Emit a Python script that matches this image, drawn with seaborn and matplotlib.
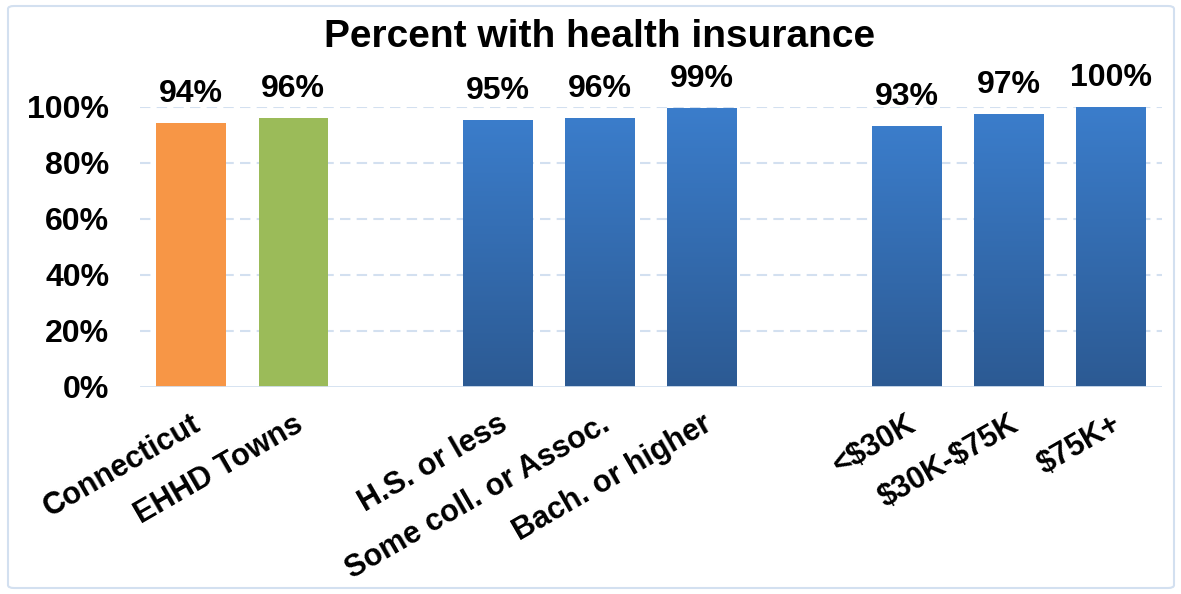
import numpy as np
import pandas as pd
import seaborn as sns
import matplotlib.pyplot as plt
from matplotlib.patches import FancyBboxPatch
from matplotlib.colors import LinearSegmentedColormap

categories = ["Connecticut", "EHHD Towns", "gap1", "H.S. or less", "Some coll. or Assoc.",
              "Bach. or higher", "gap2", "<$30K", "$30K-$75K", "$75K+"]
values = [94.4, 96.1, np.nan, 95.4, 96.1, 99.6, np.nan, 93.2, 97.4, 100.0]
value_labels = ["94%", "96%", "", "95%", "96%", "99%", "", "93%", "97%", "100%"]
tick_labels = ["Connecticut", "EHHD Towns", "", "H.S. or less", "Some coll. or Assoc.",
               "Bach. or higher", "", r"<\$30K", r"\$30K-\$75K", r"\$75K+"]
yticks = [0, 20, 40, 60, 80, 100]

orange = "#f79646"
green = "#9bbb59"
blue = "#3a7bc8"
colors = {c: blue for c in categories}
colors["Connecticut"] = orange
colors["EHHD Towns"] = green

df = pd.DataFrame({"cat": categories, "val": values})

sns.set_theme(style="white")
plt.rcParams['font.family'] = ['Liberation Sans', 'DejaVu Sans']
plt.rcParams['font.weight'] = 'bold'
plt.rcParams['text.color'] = 'black'
plt.rcParams['xtick.color'] = 'black'
plt.rcParams['ytick.color'] = 'black'

fig = plt.figure(figsize=(11.81, 5.94), dpi=100)
ax = fig.add_axes([140 / 1181, 1 - 387 / 594, 1022 / 1181, 280 / 594])

sns.barplot(data=df, x="cat", y="val", hue="cat", order=categories, hue_order=categories,
            palette=colors, width=0.68, legend=False, saturation=1, ax=ax)

# gradient on the blue bars
cmap = LinearSegmentedColormap.from_list("bluegrad", ["#2c5a93", "#3b7dcb"])
grad = np.linspace(0, 1, 256).reshape(-1, 1)
for p in list(ax.patches):
    fc = p.get_facecolor()
    if abs(fc[0] - 0x3a / 255) < 0.02 and abs(fc[2] - 0xc8 / 255) < 0.02:
        x0, y0 = p.get_x(), p.get_y()
        w, h = p.get_width(), p.get_height()
        im = ax.imshow(grad, cmap=cmap, aspect="auto", origin="lower",
                       extent=[x0, x0 + w, y0, y0 + h], zorder=p.get_zorder())
        im.set_clip_path(p)
        p.set_facecolor("none")
    p.set_edgecolor("none")

ax.set_xlim(-0.5, 9.5)
ax.set_ylim(0, 100)

for i, (v, lab) in enumerate(zip(values, value_labels)):
    if lab:
        ax.annotate(lab, (i, v), xytext=(0, 10), textcoords="offset points",
                    ha="center", va="bottom", fontsize=23, fontweight="bold",
                    color="black", annotation_clip=False)

ax.set_yticks(yticks)
ax.set_yticklabels([f"{t}%" for t in yticks], fontsize=23, fontweight="bold", color="black")
ax.set_xticks(range(len(categories)))
ax.set_xticklabels(tick_labels, rotation=30, ha="right", rotation_mode="anchor",
                   fontsize=22, fontweight="bold", color="black")
ax.tick_params(axis="y", length=0, pad=22)
ax.tick_params(axis="x", length=0, pad=16)
ax.set_xlabel("")
ax.set_ylabel("")

for t in yticks[1:]:
    ax.axhline(t, color="#d3e0f0", lw=1.5, ls=(0, (5, 3)), zorder=0)
ax.axhline(0, color="#d3e0f0", lw=2, zorder=3)
for s in ax.spines.values():
    s.set_visible(False)

fig.text(600 / 1181, 1 - 37 / 594, "Percent with health insurance", ha="center", va="center",
         fontsize=28, fontweight="bold", color="black")

border = FancyBboxPatch((8 / 1181, 6 / 594), 1166 / 1181, 582 / 594,
                        boxstyle="round,pad=0,rounding_size=0.005", transform=fig.transFigure,
                        fill=False, edgecolor="#d3e0f0", lw=1.5)
fig.patches.append(border)

fig.savefig("out.png", dpi=100)
